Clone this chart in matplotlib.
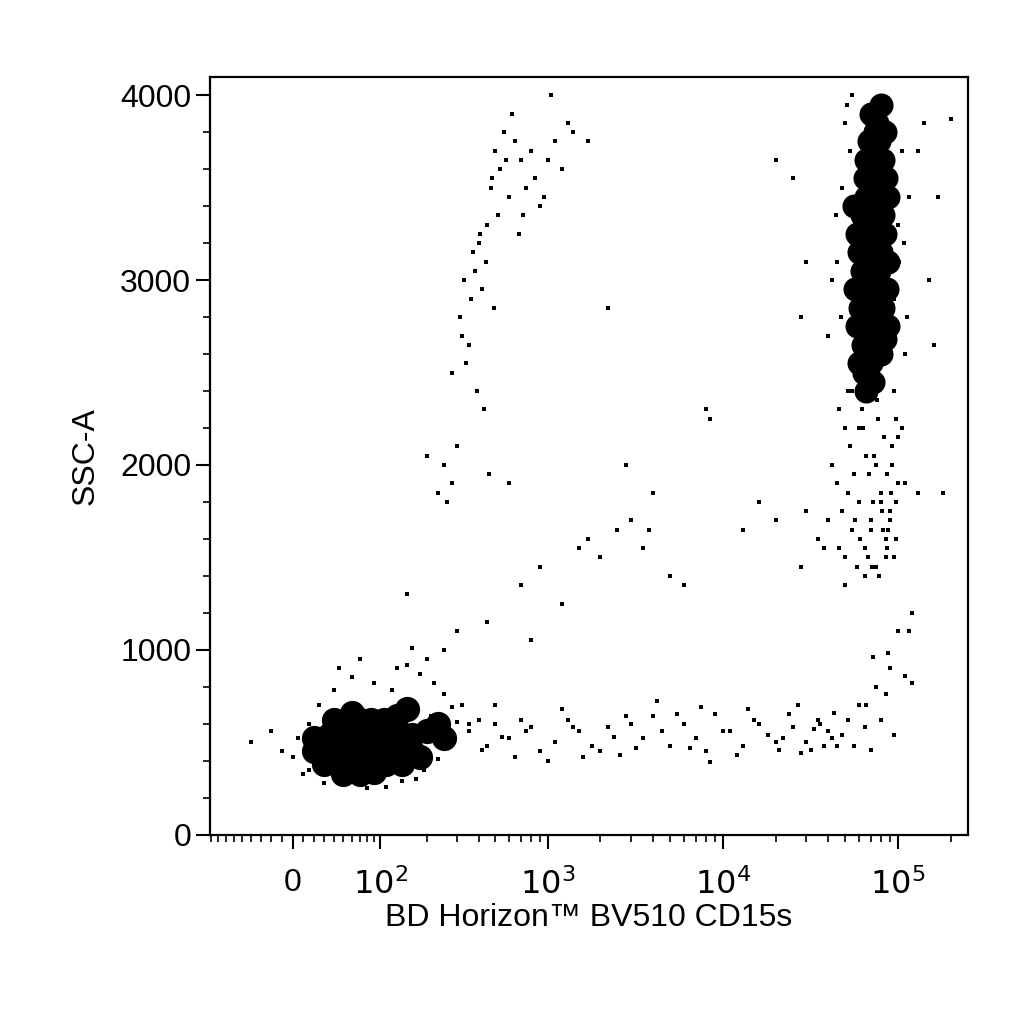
import numpy as np
import matplotlib.pyplot as plt
from matplotlib.ticker import FixedLocator, NullFormatter

plt.rcParams["font.family"] = ["Liberation Sans", "DejaVu Sans"]

# dense cores (drawn as large overlapping dots), (x, y) events
low_core = [(20, 450), (35, 450), (50, 450), (65, 450), (80, 450), (100, 450), (125, 450), (160, 450),
            (35, 540), (50, 540), (65, 540), (80, 540), (100, 540), (125, 540), (160, 540), (200, 560),
            (30, 380), (45, 380), (60, 380), (75, 380), (90, 380), (110, 380), (140, 380), (180, 420),
            (40, 620), (55, 620), (70, 620), (85, 620), (105, 620), (130, 640), (50, 330), (70, 330),
            (90, 340), (230, 600), (250, 520), (20, 520), (150, 680), (60, 660)]
high_core = [(60000, 2550), (70000, 2550), (80000, 2600), (58000, 2750), (68000, 2750), (78000, 2750),
             (88000, 2750), (57000, 2950), (66000, 2950), (76000, 2950), (86000, 2950), (60000, 3150),
             (70000, 3150), (80000, 3150), (62000, 3350), (72000, 3350), (82000, 3350), (65000, 3550),
             (75000, 3550), (85000, 3550), (68000, 3750), (78000, 3750), (62000, 3050), (72000, 3250),
             (80000, 3450), (66000, 3650), (76000, 3850), (70000, 3900), (80000, 3950), (72000, 2450),
             (63000, 2650), (74000, 2650), (84000, 2680), (61000, 2850), (71000, 2850), (82000, 2850),
             (65000, 3050), (78000, 3050), (88000, 3100), (58000, 3250), (67000, 3250), (84000, 3250),
             (66000, 3450), (75000, 3450), (70000, 3650), (82000, 3650), (74000, 3800), (84000, 3800),
             (64000, 2500), (66000, 2400), (56000, 3400), (88000, 3450)]

low_fuzz = [(-40, 500), (-20, 560), (0, 420), (10, 330), (15, 600), (25, 480), (220, 820), (250, 760),
            (280, 690), (300, 610), (240, 520), (260, 480), (180, 870), (150, 920), (120, 780), (90, 820),
            (60, 850), (40, 780), (25, 700), (210, 640), (230, 410), (190, 350), (170, 300), (140, 290),
            (110, 260), (80, 250), (30, 280), (15, 350), (5, 520), (-10, 450), (270, 560), (320, 700),
            (350, 600), (200, 950), (160, 1010), (130, 900), (300, 1100), (250, 1000), (45, 900), (70, 950)]
band = [(350, 560), (400, 620), (450, 480), (500, 600), (600, 520), (700, 620), (800, 580), (900, 450),
        (1100, 500), (1300, 620), (1500, 560), (1800, 480), (2200, 580), (2600, 430), (3000, 600),
        (3500, 520), (4000, 640), (4500, 560), (5000, 480), (6000, 600), (7000, 520), (8000, 450),
        (9000, 650), (11000, 560), (13000, 480), (15000, 620), (18000, 540), (21000, 460), (25000, 580),
        (30000, 500), (35000, 620), (40000, 560), (45000, 480), (500, 700), (650, 420), (750, 560),
        (1200, 680), (1600, 420), (2400, 530), (3200, 470), (5500, 650), (6500, 470), (7500, 690),
        (10000, 560), (12000, 430), (16000, 600), (20000, 500), (24000, 650), (28000, 440), (33000, 570),
        (38000, 480), (43000, 660), (420, 460), (550, 530), (1000, 400), (1400, 580), (2000, 450),
        (2800, 640), (4200, 720), (8500, 390), (14000, 680), (22000, 520), (27000, 700), (32000, 460),
        (36000, 600), (42000, 520), (48000, 540), (52000, 620), (56000, 480), (60000, 700), (65000, 580),
        (70000, 460), (75000, 800), (80000, 620), (85000, 760), (90000, 900), (95000, 540),
        (110000, 860), (120000, 820), (100000, 1100), (88000, 980), (72000, 960), (66000, 700)]
arc = [(200, 2050), (230, 1850), (260, 1800), (280, 2500), (300, 2100), (320, 2700), (340, 2550),
       (360, 2900), (380, 3050), (400, 3200), (420, 2950), (450, 3300), (480, 3550), (500, 3700),
       (530, 3600), (560, 3800), (600, 3450), (650, 3750), (700, 3650), (750, 3500), (800, 3700),
       (900, 3400), (1000, 3650), (1100, 3750), (1200, 3600), (1400, 3800), (1700, 3750), (310, 2800),
       (330, 3000), (350, 2650), (370, 3150), (390, 2400), (410, 3250), (440, 3100), (470, 3500),
       (520, 3350), (580, 3650), (620, 3900), (680, 3250), (720, 3350), (850, 3550), (950, 3450),
       (1050, 4000), (1300, 3850), (250, 2000), (280, 1900), (430, 2300), (460, 1950), (490, 2850)]
middle = [(1500, 1550), (1700, 1600), (2000, 1500), (2500, 1650), (3000, 1700), (3500, 1550),
          (4000, 1850), (5000, 1400), (8000, 2300), (8500, 2250), (13000, 1650), (16000, 1800),
          (20000, 1700), (28000, 1450), (2200, 2850), (2800, 2000), (3800, 1650), (6000, 1350),
          (700, 1350), (900, 1450), (1200, 1250), (150, 1300), (450, 1150), (600, 1900), (800, 1050)]
mid_cluster = [(40000, 1700), (45000, 1900), (50000, 1500), (55000, 1650), (60000, 1800), (65000, 1550),
               (70000, 1700), (75000, 1450), (80000, 1850), (85000, 1600), (90000, 1750), (95000, 1500),
               (100000, 1900), (42000, 2000), (48000, 1750), (53000, 2100), (58000, 1450), (63000, 2200),
               (68000, 1950), (73000, 2050), (78000, 1400), (83000, 2150), (88000, 1650), (93000, 2000),
               (98000, 1800), (105000, 2200), (46000, 1550), (52000, 1850), (57000, 1700), (62000, 2300),
               (67000, 1500), (72000, 1800), (77000, 2250), (82000, 1650), (87000, 1950), (92000, 2100),
               (97000, 1600), (50000, 1350), (56000, 1950), (61000, 1600), (66000, 2050), (71000, 1450),
               (76000, 2350), (81000, 1750), (86000, 1550), (91000, 1850), (55000, 2400), (60000, 2200),
               (65000, 1400), (70000, 1650), (75000, 2000), (80000, 1800), (85000, 1500), (90000, 1700),
               (35000, 1600), (38000, 1550), (30000, 1750), (110000, 1900), (130000, 1850), (180000, 1850),
               (120000, 1200), (115000, 1100)]
high_fuzz = [(40000, 2700), (45000, 3100), (48000, 3500), (50000, 3850), (52000, 2400), (95000, 2900),
             (100000, 3300), (105000, 3700), (110000, 2600), (115000, 3450), (42000, 3000), (46000, 2300),
             (51000, 3950), (98000, 2250), (108000, 3200), (44000, 3350), (47000, 2800), (53000, 3700),
             (102000, 3100), (112000, 2800), (30000, 3100), (25000, 3550), (20000, 3650), (140000, 3850),
             (130000, 3700), (170000, 3450), (50000, 2200), (95000, 2400), (55000, 4000), (100000, 2150),
             (200000, 3870), (150000, 3000), (160000, 2650), (28000, 2800)]

sparse = low_fuzz + band + arc + middle + mid_cluster + high_fuzz
sparse_x = [p[0] for p in sparse]
sparse_y = [p[1] for p in sparse]


def fwd(x):
    return np.arcsinh(np.asarray(x, float) / 70.0) / np.log(10) + np.log10(35.0)


def inv(y):
    return 70.0 * np.sinh((np.asarray(y, float) - np.log10(35.0)) * np.log(10))


fig = plt.figure(figsize=(10.24, 10.24), dpi=100)
ax = fig.add_axes([0.205, 0.185, 0.74, 0.74])
ax.set_xscale("function", functions=(fwd, inv))
ax.scatter([p[0] for p in low_core], [p[1] for p in low_core], s=330, c="black", linewidths=0)
ax.scatter([p[0] for p in high_core], [p[1] for p in high_core], s=300, c="black", linewidths=0)
ax.scatter(sparse_x, sparse_y, s=6, c="black", marker="s", linewidths=0)

ax.set_xlim(-92, 250000)
ax.set_ylim(0, 4100)

ax.xaxis.set_major_locator(FixedLocator([0, 100, 1000, 10000, 100000]))
ax.set_xticklabels(["0", "$10^2$", "$10^3$", "$10^4$", "$10^5$"])
minors = [-90, -80, -70, -60, -50, -40, -30, -20, -10, 10, 20, 30, 40, 50, 60, 70, 80, 90]
for d in [100, 1000, 10000, 100000]:
    minors += [d * k for k in range(2, 10)]
ax.xaxis.set_minor_locator(FixedLocator(minors))
ax.xaxis.set_minor_formatter(NullFormatter())
ax.yaxis.set_major_locator(FixedLocator([0, 1000, 2000, 3000, 4000]))
ax.yaxis.set_minor_locator(FixedLocator([v for v in range(200, 4100, 200)]))

ax.tick_params(which="major", direction="out", length=10, width=1.5, labelsize=23)
ax.tick_params(axis="x", which="major", pad=14)
ax.tick_params(which="minor", direction="out", length=5, width=1.2)
for s in ax.spines.values():
    s.set_linewidth(1.6)
ax.set_xlabel("BD Horizon™ BV510 CD15s", fontsize=23, labelpad=2)
ax.set_ylabel("SSC-A", fontsize=23, labelpad=14)

fig.savefig("out.png", dpi=100)
